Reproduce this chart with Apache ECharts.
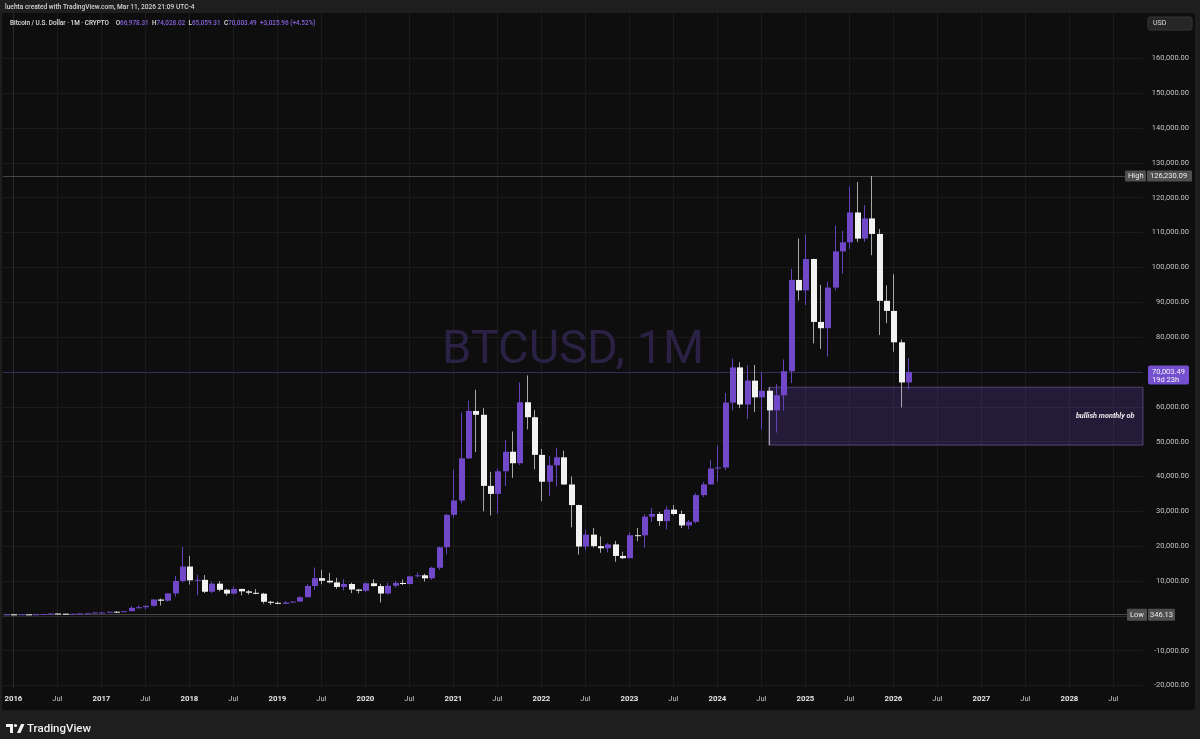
<!DOCTYPE html>
<html>
<head>
<meta charset="utf-8">
<script src="https://cdn.jsdelivr.net/npm/echarts@6/dist/echarts.min.js"></script>
<style>
html,body{margin:0;padding:0;background:#1e1e1e;overflow:hidden;}
#panel{position:absolute;left:2px;top:13px;width:1193px;height:697px;background:#0e0e0e;border-radius:3px;}
#c{position:absolute;left:0;top:0;width:1200px;height:739px;}
</style>
</head>
<body>
<div id="panel"></div>
<div id="c"></div>
<script>
// ---------------- DATA ----------------
const months = [
'2015-12',
'2016-01','2016-02','2016-03','2016-04','2016-05','2016-06','2016-07','2016-08','2016-09','2016-10','2016-11','2016-12',
'2017-01','2017-02','2017-03','2017-04','2017-05','2017-06','2017-07','2017-08','2017-09','2017-10','2017-11','2017-12',
'2018-01','2018-02','2018-03','2018-04','2018-05','2018-06','2018-07','2018-08','2018-09','2018-10','2018-11','2018-12',
'2019-01','2019-02','2019-03','2019-04','2019-05','2019-06','2019-07','2019-08','2019-09','2019-10','2019-11','2019-12',
'2020-01','2020-02','2020-03','2020-04','2020-05','2020-06','2020-07','2020-08','2020-09','2020-10','2020-11','2020-12',
'2021-01','2021-02','2021-03','2021-04','2021-05','2021-06','2021-07','2021-08','2021-09','2021-10','2021-11','2021-12',
'2022-01','2022-02','2022-03','2022-04','2022-05','2022-06','2022-07','2022-08','2022-09','2022-10','2022-11','2022-12',
'2023-01','2023-02','2023-03','2023-04','2023-05','2023-06','2023-07','2023-08','2023-09','2023-10','2023-11','2023-12',
'2024-01','2024-02','2024-03','2024-04','2024-05','2024-06','2024-07','2024-08','2024-09','2024-10','2024-11','2024-12',
'2025-01','2025-02','2025-03','2025-04','2025-05','2025-06','2025-07','2025-08','2025-09','2025-10','2025-11','2025-12',
'2026-01','2026-02','2026-03'
];
const opens = [
377,
430,368,437,416,448,531,673,624,574,608,698,745,
963,965,1190,1080,1348,2300,2480,2875,4700,4340,6450,10000,
14150,10200,10330,6920,9240,7490,6390,7730,7030,6630,6370,4040,
3740,3460,3850,4100,5350,8570,10820,10080,9600,8300,9150,7550,
7190,9350,8540,6410,8640,9450,9140,11350,11650,10780,13800,19700,
28990,33110,45200,58800,57700,37300,35000,41500,47100,43800,61300,57000,
46200,38500,43200,45500,37700,31800,19900,23300,20000,19400,20500,17200,
16550,23150,23100,28480,29250,27200,30480,29230,25940,26970,34650,37720,
42280,42580,61200,71300,60650,67500,62700,64600,58980,63300,70200,96400,
93400,102400,84350,82550,94200,104600,107200,115750,108250,114050,109600,90400,
87500,78500,66978.31
];
const highs = [
467,
462,448,440,467,548,780,704,626,628,714,755,980,
1160,1200,1350,1350,2790,3000,2950,4760,4980,6470,11500,19800,
17200,11800,11700,9760,9990,7760,8500,7760,7400,7680,6600,4300,
4110,4200,4100,5630,9070,13880,13200,12330,10900,10540,9520,7750,
9580,10500,9190,9470,10080,10430,11440,12470,12080,14100,19900,29300,
41950,58350,61800,64900,59600,41300,42300,50500,52900,67000,69000,59100,
47900,45800,48200,47400,40000,31900,24700,25200,22800,20900,21500,18400,
23950,25250,29200,31000,29850,31400,31800,30200,27500,35200,38400,44700,
48900,64000,73800,72800,71950,72000,70000,65600,66500,73600,99600,108300,
109400,102500,95000,95800,112000,110500,123200,124500,117900,126230.09,111000,94800,
98000,79300,74028.02
];
const lows = [
355,
346.13,365,394,415,440,510,472,465,568,604,685,740,
750,920,890,1060,1340,2100,1830,2650,2970,4120,5500,9500,
9000,5900,6550,6530,7060,5760,6100,5880,6100,6200,3500,3130,
3350,3400,3690,4060,5330,7450,9070,9320,7730,7300,6520,6430,
6860,8450,3860,6150,8100,8830,8990,10990,9850,10380,13200,17600,
28130,32300,45000,47000,30000,28800,29300,37300,39600,43300,53500,42000,
32900,34300,37200,37600,25400,17600,18800,19600,18100,18200,15500,16300,
16500,21400,19550,26950,25800,24800,28850,25200,24900,26550,34100,37600,
38500,41900,59000,59600,56500,58500,53500,49000,52600,58900,66800,90500,
89200,78200,76600,74400,93400,98200,105300,107300,107300,103500,80600,84000,
75800,59800,65059.31
];
const closes = [
430,
368,437,416,448,531,673,624,574,608,698,745,963,
965,1190,1080,1348,2300,2480,2875,4700,4340,6450,10000,14150,
10200,10330,6920,9240,7490,6390,7730,7030,6630,6370,4040,3740,
3460,3850,4100,5350,8570,10820,10080,9600,8300,9150,7550,7190,
9350,8540,6410,8640,9450,9140,11350,11650,10780,13800,19700,28990,
33110,45200,58800,57700,37300,35000,41500,47100,43800,61300,57000,46200,
38500,43200,45500,37700,31800,19900,23300,20000,19400,20500,17200,16550,
23150,23100,28480,29250,27200,30480,29230,25940,26970,34650,37720,42280,
42580,61200,71300,60650,67500,62700,64600,58980,63300,70200,96400,93400,
102400,84350,82550,94200,104600,107200,115750,108250,114050,109600,90400,87500,
78500,66978.31,70003.49
];
const xTickLabels = ['2016','Jul','2017','Jul','2018','Jul','2019','Jul','2020','Jul','2021','Jul','2022','Jul',
                     '2023','Jul','2024','Jul','2025','Jul','2026','Jul','2027','Jul','2028','Jul'];
const yTickValues = [-20000,-10000,0,10000,20000,30000,40000,50000,60000,70000,80000,90000,100000,
                     110000,120000,130000,140000,150000,160000];
const yHiddenLabels = [0, 70000];
const highValue = 126230.09;
const lowValue = 346.13;
const lastClose = 70003.49;
const countdown = '19d 23h';
const boxStartMonth = '2024-08';
const boxTop = 65600;
const boxBottom = 49000;
const boxText = 'bullish monthly ob';
const headerLine1 = 'luehta created with TradingView.com, Mar 11, 2026 21:09 UTC-4';
const symbolTitle = 'Bitcoin / U.S. Dollar · 1M · CRYPTO';
const ohlcText = {o:'66,978.31', h:'74,028.02', l:'65,059.31', c:'70,003.49', chg:'+3,025.96 (+4.52%)'};
const watermark = 'BTCUSD, 1M';

// ---------------- HELPERS ----------------
const FONT = "Roboto, 'Liberation Sans', sans-serif";
const UP = '#7048c8', DOWN = '#f2f2f2', WICK_UP = '#6242b4', WICK_DOWN = '#a8a8a8';
function monthIndex(s){const [y,m]=s.split('-').map(Number);return (y-2016)*12+(m-1);}
function fmt(v){return v.toLocaleString('en-US',{minimumFractionDigits:2,maximumFractionDigits:2});}

const candleData = months.map((m,i)=>[monthIndex(m), opens[i], closes[i], lows[i], highs[i]]);
const xMin = -1.418, xMax = 154.04;

const chart = echarts.init(document.getElementById('c'), null, {renderer:'canvas'});

const option = {
  backgroundColor: 'transparent',
  animation: false,
  textStyle: {fontFamily: FONT},
  grid: {left: 3, top: 13, right: 57, bottom: 51},
  xAxis: {
    type: 'value', min: xMin, max: xMax,
    axisLine: {show: true, lineStyle: {color: '#2a2a2a'}},
    axisTick: {show: false, customValues: xTickLabels.map((_,i)=>i*6)},
    splitLine: {show: true, lineStyle: {color: '#1b1b1b', width: 1}},
    axisLabel: {
      customValues: xTickLabels.map((_,i)=>i*6),
      margin: 7,
      formatter: v => { const lab = xTickLabels[Math.round(v/6)]; return lab === 'Jul' ? '{m|Jul}' : '{y|' + lab + '}'; },
      rich: {
        y: {fontSize: 7.8, fontWeight: 'bold', color: '#e6e6e6', fontFamily: FONT},
        m: {fontSize: 7.5, color: '#c8c8c8', fontFamily: FONT}
      }
    }
  },
  yAxis: {
    type: 'value', position: 'right', min: -20700, max: 173000, scale: true,
    axisLine: {show: true, lineStyle: {color: '#2a2a2a'}},
    axisTick: {show: false, customValues: yTickValues},
    splitLine: {show: true, lineStyle: {color: '#1b1b1b', width: 1}},
    axisLabel: {
      customValues: yTickValues.filter(v => !yHiddenLabels.includes(v)),
      align: 'right', margin: 46,
      fontSize: 7.5, color: '#c4c4c4', fontFamily: FONT,
      formatter: v => fmt(v)
    }
  },
  series: [{
    type: 'custom',
    clip: true,
    data: candleData,
    encode: {x: 0, y: [1,2,3,4]},
    z: 5,
    renderItem: function(params, api){
      const x = api.value(0), o = api.value(1), c = api.value(2), l = api.value(3), h = api.value(4);
      const pO = api.coord([x,o]), pC = api.coord([x,c]), pL = api.coord([x,l]), pH = api.coord([x,h]);
      const w = api.size([1,0])[0]*0.78;
      const up = c >= o;
      const cx = Math.round(pO[0]) + 0.5;
      const top = Math.min(pO[1], pC[1]), bot = Math.max(pO[1], pC[1]);
      return {type:'group', children:[
        {type:'line', shape:{x1:cx, y1:pH[1], x2:cx, y2:pL[1]}, style:{stroke: up?WICK_UP:WICK_DOWN, lineWidth:1}},
        {type:'rect', shape:{x: Math.round(cx - w/2), y: top, width: Math.round(w), height: Math.max(bot-top, 1)},
         style:{fill: up?UP:DOWN}}
      ]};
    },
    markLine: {
      silent: true, symbol: 'none', label: {show: false},
      data: [
        {yAxis: highValue, lineStyle: {color: '#474747', width: 1, type: 'solid'}},
        {yAxis: lowValue, lineStyle: {color: '#474747', width: 1, type: 'solid'}},
        {yAxis: lastClose, lineStyle: {color: '#362c5c', width: 1, type: 'solid'}}
      ]
    },
    markArea: {
      silent: true,
      itemStyle: {color: 'rgba(112,78,210,0.22)', borderColor: 'rgba(150,125,220,0.45)', borderWidth: 1},
      label: {show: true, position: 'insideRight', distance: 9, color: '#ececec', fontSize: 7.3,
              fontStyle: 'italic', fontWeight: 'bold', fontFamily: FONT},
      data: [[
        {name: boxText, xAxis: monthIndex(boxStartMonth), yAxis: boxTop},
        {xAxis: xMax, yAxis: boxBottom}
      ]]
    }
  }]
};
chart.setOption(option);

// ---------------- OVERLAYS (labels placed via the axis scale) ----------------
const yHigh = chart.convertToPixel({yAxisIndex: 0}, highValue);
const yLow = chart.convertToPixel({yAxisIndex: 0}, lowValue);
const yLast = chart.convertToPixel({yAxisIndex: 0}, lastClose);
const gridRect = chart.getModel().getComponent('grid').coordinateSystem.getRect();
const wmX = gridRect.x + gridRect.width * 0.500;

function box(x, y, w, h, fill, text, tx){
  return [
    {type:'rect', z: 50, shape:{x:x, y:y, width:w, height:h, r:1}, style:{fill: fill}},
    {type:'text', z: 51, x: tx, y: y + h/2, style:{text: text, fill:'#ececec', fontSize: 7.5, fontFamily: FONT, verticalAlign:'middle', align:'left'}}
  ];
}

const graphics = [
  // watermark
  {type:'text', z: 1, x: wmX, y: 351, style:{text: watermark, fill:'#2a2145', fontSize: 47, fontFamily: FONT, align:'center', verticalAlign:'middle'}},
  // header line 1
  {type:'text', z: 60, x: 5, y: 7, style:{text: headerLine1, fill:'#d4d4d4', fontSize: 6.6, fontWeight: 500, fontFamily: FONT, verticalAlign:'middle'}},
  // header line 2
  {type:'text', z: 60, x: 10, y: 23, style:{
    text: '{w|' + symbolTitle + '}  {w|O}{p|' + ohlcText.o + '} {w|H}{p|' + ohlcText.h + '} {w|L}{p|' + ohlcText.l + '} {w|C}{p|' + ohlcText.c + '} {p|' + ohlcText.chg + '}',
    verticalAlign:'middle',
    rich: {
      w: {fill:'#e0e0e0', fontSize: 6.4, fontWeight: 500, fontFamily: FONT},
      p: {fill:'#8a62e0', fontSize: 6.4, fontWeight: 500, fontFamily: FONT}
    }
  }},
  // USD button
  {type:'rect', z: 60, shape:{x:1148, y:17, width:44, height:13, r:2}, style:{fill:'#262626', stroke:'#363636', lineWidth:1}},
  {type:'text', z: 61, x: 1153, y: 23.5, style:{text:'USD', fill:'#dddddd', fontSize: 7, fontFamily: FONT, verticalAlign:'middle'}},
  // current price label
  {type:'rect', z: 50, shape:{x:1148, y: yLast - 6.5, width: 41, height: 19, r: 2}, style:{fill:'#7450d0'}},
  {type:'text', z: 51, x: 1152, y: yLast, style:{text: fmt(lastClose), fill:'#f4f4f4', fontSize: 7.5, fontFamily: FONT, verticalAlign:'middle'}},
  {type:'text', z: 51, x: 1152, y: yLast + 8.5, style:{text: countdown, fill:'#f4f4f4', fontSize: 7.5, fontFamily: FONT, verticalAlign:'middle'}},
  // logo
  {type:'rect', z: 60, shape:{x:6, y:724, width:7, height:3}, style:{fill:'#f0f0f0'}},
  {type:'rect', z: 60, shape:{x:10, y:724, width:3, height:9}, style:{fill:'#f0f0f0'}},
  {type:'circle', z: 60, shape:{cx:15.5, cy:725.5, r:1.6}, style:{fill:'#f0f0f0'}},
  {type:'polygon', z: 60, shape:{points:[[17,733],[21,724],[24.5,724],[20.5,733]]}, style:{fill:'#f0f0f0'}},
  {type:'text', z: 60, x: 27, y: 729, style:{text:'TradingView', fill:'#f0f0f0', fontSize: 11.5, fontWeight: 500, fontFamily: FONT, verticalAlign:'middle'}}
]
.concat(box(1125, yHigh - 5.5, 21, 11, '#4f4f4f', 'High', 1128))
.concat(box(1147, yHigh - 5.5, 45, 11, '#4f4f4f', fmt(highValue), 1150))
.concat(box(1127, yLow - 6, 20, 12, '#4f4f4f', 'Low', 1130))
.concat(box(1148, yLow - 6, 27, 12, '#4f4f4f', fmt(lowValue), 1150));

chart.setOption({graphic: graphics});
</script>
</body>
</html>
